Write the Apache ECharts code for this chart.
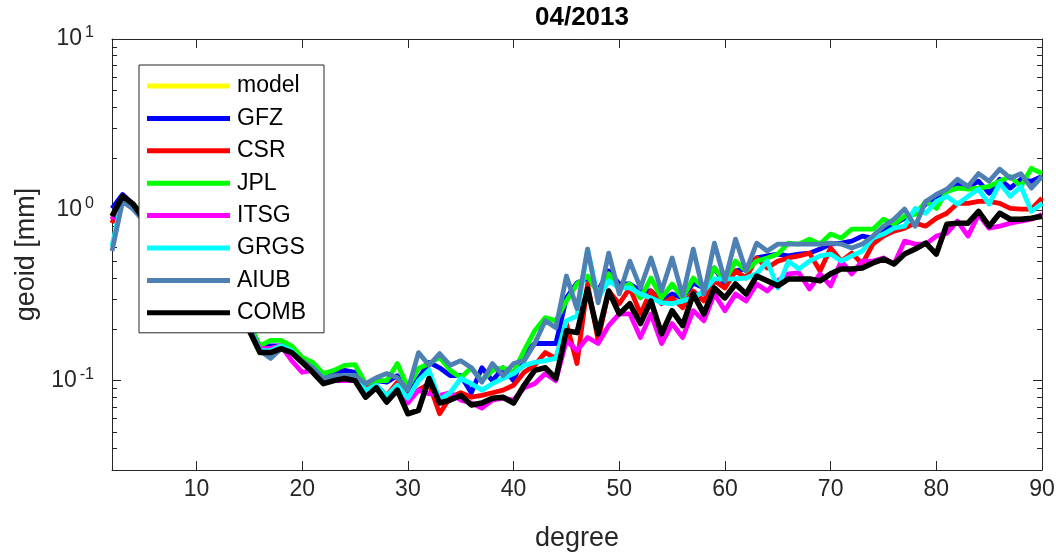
<!DOCTYPE html>
<html>
<head>
<meta charset="utf-8">
<script src="https://cdn.jsdelivr.net/npm/echarts@6/dist/echarts.min.js"></script>
<style>
html,body{margin:0;padding:0;background:#fff;}
#chart{width:1056px;height:556px;}
</style>
</head>
<body>
<div id="chart"></div>
<script>
const titleText = '04/2013';
const degrees = [2,3,4,5,6,7,8,9,10,11,12,13,14,15,16,
  17,18,19,20,21,22,23,24,25,26,27,28,29,30,
  31,32,33,34,35,36,37,38,39,40,41,42,43,44,
  45,46,47,48,49,50,51,52,53,54,55,56,57,58,
  59,60,61,62,63,64,65,66,67,68,69,70,71,72,
  73,74,75,76,77,78,79,80,81,82,83,84,85,86,
  87,88,89,90];
const xTicks = [10,20,30,40,50,60,70,80,90];
const yMajorTicks = [0.1,1,10];
const yMinorTicks = [0.03,0.04,0.05,0.06,0.07,0.08,0.09,0.2,0.3,0.4,0.5,0.6,0.7,0.8,0.9,2,3,4,5,6,7,8,9];

const model = [0.918,1.2,1.08,0.881,0.771,0.674,0.589,0.515,0.451,0.394,0.335,0.282,0.24,0.196,0.146,
  0.146,0.154,0.146,0.128,0.112,0.096,0.1,0.103,0.1,0.08,0.091,0.075,0.088,0.064,
  0.067,0.103,0.074,0.077,0.082,0.072,0.074,0.079,0.08,0.074,0.094,0.115,0.119,0.103,
  0.196,0.191,0.344,0.188,0.335,0.246,0.282,0.216,0.293,0.188,0.257,0.21,0.322,0.246,
  0.349,0.305,0.368,0.322,0.41,0.384,0.359,0.394,0.394,0.394,0.384,0.422,0.451,0.451,
  0.457,0.489,0.515,0.482,0.551,0.589,0.638,0.551,0.824,0.836,0.836,0.98,0.802,0.955,
  0.881,0.881,0.893,0.918];
const GFZ = [1.02,1.23,1.08,0.918,0.802,0.702,0.614,0.537,0.469,0.41,0.349,0.293,0.25,0.21,0.156,
  0.16,0.16,0.15,0.135,0.119,0.103,0.11,0.115,0.112,0.094,0.1,0.098,0.107,0.084,
  0.103,0.128,0.119,0.107,0.107,0.085,0.119,0.1,0.119,0.1,0.144,0.165,0.165,0.165,
  0.305,0.373,0.399,0.335,0.439,0.368,0.368,0.335,0.335,0.293,0.322,0.305,0.373,0.349,
  0.457,0.368,0.439,0.451,0.523,0.537,0.551,0.537,0.551,0.558,0.589,0.63,0.638,0.656,
  0.702,0.683,0.771,0.824,0.893,0.955,1.08,1.2,1.28,1.41,1.37,1.47,1.25,1.51,
  1.34,1.51,1.47,1.57];
const CSR = [0.836,1.2,1.08,0.893,0.781,0.683,0.597,0.523,0.457,0.399,0.344,0.286,0.246,0.204,0.154,
  0.154,0.16,0.15,0.131,0.119,0.103,0.103,0.103,0.103,0.09,0.094,0.082,0.098,0.079,
  0.088,0.096,0.064,0.08,0.085,0.08,0.082,0.085,0.088,0.094,0.112,0.123,0.146,0.135,
  0.216,0.126,0.368,0.172,0.335,0.282,0.349,0.246,0.335,0.282,0.305,0.267,0.335,0.293,
  0.384,0.349,0.439,0.399,0.523,0.457,0.501,0.523,0.537,0.558,0.439,0.597,0.501,0.558,
  0.482,0.63,0.702,0.75,0.781,0.836,0.802,0.893,0.955,1.09,1.09,1.12,1.12,1.09,
  1.02,1.01,1.01,1.17];
const JPL = [0.918,1.2,1.08,0.94,0.824,0.721,0.63,0.551,0.482,0.422,0.359,0.305,0.257,0.216,0.16,
  0.172,0.172,0.16,0.137,0.128,0.11,0.115,0.123,0.124,0.096,0.1,0.1,0.126,0.091,
  0.118,0.126,0.137,0.115,0.104,0.119,0.1,0.115,0.119,0.112,0.15,0.196,0.234,0.224,
  0.293,0.368,0.41,0.326,0.422,0.349,0.368,0.305,0.399,0.305,0.368,0.305,0.399,0.349,
  0.457,0.384,0.501,0.439,0.501,0.523,0.551,0.638,0.63,0.674,0.63,0.721,0.683,0.771,
  0.771,0.771,0.881,0.824,0.918,0.94,1.12,1.02,1.28,1.34,1.32,1.34,1.37,1.47,
  1.57,1.37,1.75,1.63];
const ITSG = [0.881,1.2,1.08,0.893,0.781,0.683,0.597,0.523,0.457,0.399,0.34,0.286,0.244,0.204,0.154,
  0.154,0.16,0.131,0.112,0.115,0.103,0.1,0.1,0.1,0.088,0.091,0.075,0.088,0.074,
  0.088,0.084,0.082,0.085,0.077,0.074,0.069,0.077,0.079,0.077,0.091,0.096,0.11,0.1,
  0.172,0.15,0.179,0.165,0.21,0.246,0.246,0.179,0.246,0.165,0.216,0.179,0.257,0.224,
  0.322,0.257,0.322,0.293,0.368,0.335,0.384,0.422,0.428,0.344,0.422,0.359,0.501,0.422,
  0.501,0.501,0.523,0.482,0.656,0.63,0.63,0.702,0.731,0.859,0.702,0.94,0.781,0.802,
  0.836,0.859,0.881,0.94];
const GRGS = [0.614,1.17,1.05,0.893,0.781,0.683,0.597,0.523,0.457,0.399,0.344,0.29,0.246,0.207,0.15,
  0.15,0.16,0.15,0.128,0.119,0.103,0.105,0.107,0.107,0.088,0.094,0.082,0.094,0.079,
  0.1,0.115,0.077,0.085,0.103,0.096,0.088,0.096,0.103,0.11,0.123,0.128,0.131,0.135,
  0.224,0.24,0.589,0.305,0.384,0.349,0.349,0.322,0.305,0.286,0.282,0.293,0.305,0.335,
  0.394,0.394,0.394,0.399,0.422,0.501,0.349,0.501,0.451,0.501,0.537,0.551,0.501,0.537,
  0.574,0.683,0.721,0.781,0.802,1.02,0.955,1.12,1.2,1.08,1.2,1.32,1.08,1.43,
  1.2,1.37,0.98,1.09];
const AIUB = [0.574,1.12,1.01,0.859,0.75,0.656,0.574,0.501,0.439,0.384,0.331,0.282,0.237,0.2,0.15,
  0.135,0.154,0.146,0.131,0.119,0.103,0.107,0.107,0.107,0.096,0.104,0.11,0.104,0.088,
  0.146,0.123,0.144,0.123,0.131,0.119,0.098,0.126,0.107,0.126,0.131,0.165,0.224,0.204,
  0.41,0.264,0.589,0.286,0.558,0.322,0.501,0.349,0.523,0.335,0.523,0.314,0.589,0.322,
  0.638,0.384,0.674,0.439,0.638,0.574,0.63,0.63,0.63,0.63,0.63,0.638,0.63,0.597,
  0.63,0.702,0.802,0.881,1.01,0.802,1.12,1.23,1.32,1.51,1.37,1.63,1.47,1.73,
  1.53,1.63,1.34,1.57];
const COMB = [0.918,1.2,1.08,0.881,0.771,0.674,0.589,0.515,0.451,0.394,0.335,0.282,0.24,0.196,0.146,
  0.146,0.154,0.146,0.128,0.112,0.096,0.1,0.103,0.1,0.08,0.091,0.075,0.088,0.064,
  0.067,0.103,0.074,0.077,0.082,0.072,0.074,0.079,0.08,0.074,0.094,0.115,0.119,0.103,
  0.196,0.191,0.344,0.188,0.335,0.246,0.282,0.216,0.293,0.188,0.257,0.21,0.322,0.246,
  0.349,0.305,0.368,0.322,0.41,0.384,0.359,0.394,0.394,0.394,0.384,0.422,0.451,0.451,
  0.457,0.489,0.515,0.482,0.551,0.589,0.638,0.551,0.824,0.836,0.836,0.98,0.802,0.955,
  0.881,0.881,0.893,0.918];

const seriesNames = ['model','GFZ','CSR','JPL','ITSG','GRGS','AIUB','COMB'];
const seriesValues = [model, GFZ, CSR, JPL, ITSG, GRGS, AIUB, COMB];
const seriesColors = ['#FFFF00','#0000FF','#FF0000','#00FF00','#FF00FF','#00FFFF','#4D80B3','#000000'];
const seriesWidths = [4.8, 4.8, 4.8, 4.8, 4.8, 4.8, 4.8, 5.5];

const axisColor = '#262626';
const FONT = 'Liberation Sans, Arial, Helvetica, sans-serif';

const chart = echarts.init(document.getElementById('chart'), null, {renderer: 'canvas'});

function yAxisBase(extra) {
  return Object.assign({
    type: 'log', logBase: 10, min: 0.03, max: 10,
    splitLine: {show: false},
    axisLine: {show: true, lineStyle: {color: axisColor, width: 1}},
    axisLabel: {show: false},
    axisTick: {show: false}
  }, extra);
}

const option = {
  backgroundColor: '#ffffff',
  animation: false,
  title: {
    text: titleText, left: 577, top: 0, textAlign: 'center',
    textStyle: {fontFamily: FONT, fontSize: 26, fontWeight: 'bold', color: '#000'}
  },
  grid: {left: 112, right: 14, top: 39, bottom: 86, outerBoundsMode: 'none'},
  legend: {
    data: seriesNames,
    orient: 'vertical', left: 139, top: 65,
    padding: [9, 18, 8, 8],
    itemGap: 8.4, itemWidth: 83, itemHeight: 5,
    icon: 'rect',
    backgroundColor: '#ffffff', borderColor: axisColor, borderWidth: 1,
    textStyle: {fontFamily: FONT, fontSize: 23, lineHeight: 24, color: '#000', padding: [0, 0, 0, 2]}
  },
  xAxis: [
    {
      type: 'value', min: 2, max: 90, position: 'bottom',
      name: 'degree', nameLocation: 'middle', nameGap: 55,
      nameTextStyle: {fontFamily: FONT, fontSize: 27, color: axisColor},
      splitLine: {show: false},
      axisLine: {show: true, onZero: false, lineStyle: {color: axisColor, width: 1}},
      axisTick: {show: true, inside: true, length: 9, customValues: xTicks, lineStyle: {color: axisColor, width: 1}},
      axisLabel: {show: true, customValues: xTicks, margin: 8, fontFamily: FONT, fontSize: 23, color: axisColor}
    },
    {
      type: 'value', min: 2, max: 90, position: 'top',
      splitLine: {show: false},
      axisLine: {show: true, onZero: false, lineStyle: {color: axisColor, width: 1}},
      axisTick: {show: true, inside: true, length: 9, customValues: xTicks, lineStyle: {color: axisColor, width: 1}},
      axisLabel: {show: false}
    }
  ],
  yAxis: [
    yAxisBase({
      position: 'left',
      name: 'geoid [mm]', nameLocation: 'middle', nameGap: 62,
      nameTextStyle: {fontFamily: FONT, fontSize: 27, color: axisColor},
      axisTick: {show: true, inside: true, length: 9, customValues: yMajorTicks, lineStyle: {color: axisColor, width: 1}},
      axisLabel: {
        show: true, customValues: yMajorTicks, margin: 18,
        formatter: function (v) {
          const e = Math.round(Math.log10(v));
          return '{b|10}{s|' + e + '}';
        },
        rich: {
          b: {fontFamily: FONT, fontSize: 23, color: axisColor, lineHeight: 28},
          s: {fontFamily: FONT, fontSize: 16, color: axisColor, verticalAlign: 'top', lineHeight: 16, padding: [0, 0, 0, 3]}
        }
      }
    }),
    yAxisBase({
      position: 'left',
      axisLine: {show: false},
      axisTick: {show: true, inside: true, length: 5, customValues: yMinorTicks, lineStyle: {color: axisColor, width: 1}}
    }),
    yAxisBase({
      position: 'right',
      axisTick: {show: true, inside: true, length: 9, customValues: yMajorTicks, lineStyle: {color: axisColor, width: 1}}
    }),
    yAxisBase({
      position: 'right',
      axisLine: {show: false},
      axisTick: {show: true, inside: true, length: 5, customValues: yMinorTicks, lineStyle: {color: axisColor, width: 1}}
    })
  ],
  series: seriesNames.map(function (name, i) {
    return {
      name: name,
      type: 'line',
      xAxisIndex: 0, yAxisIndex: 0,
      showSymbol: false, symbol: 'none',
      clip: true,
      color: seriesColors[i],
      itemStyle: {color: seriesColors[i]},
      lineStyle: {color: seriesColors[i], width: seriesWidths[i], join: 'round'},
      emphasis: {disabled: true},
      data: degrees.map(function (d, j) { return [d, seriesValues[i][j]]; })
    };
  })
};
chart.setOption(option);
</script>
</body>
</html>
